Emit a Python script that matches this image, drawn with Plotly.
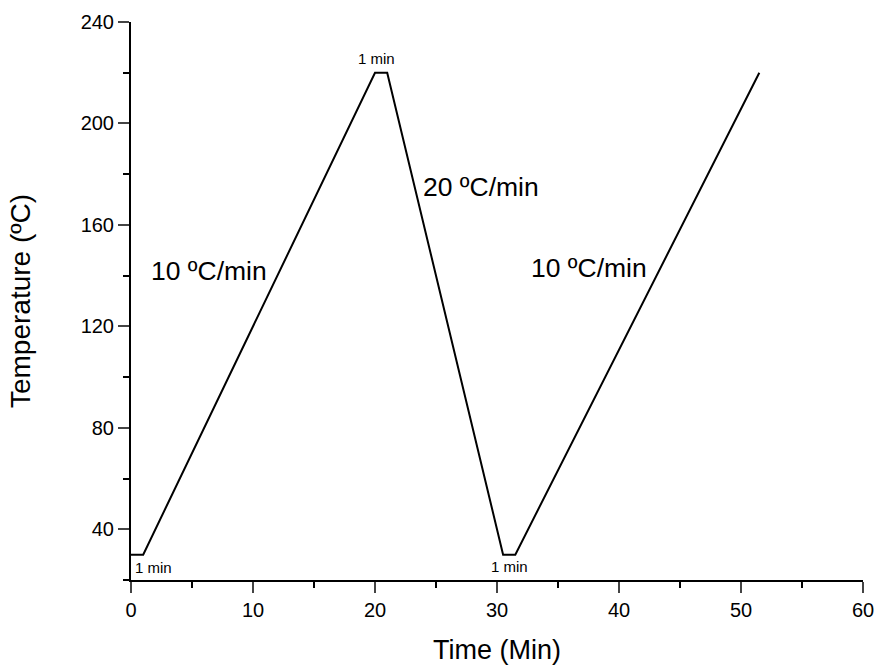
import plotly.graph_objects as go

# Data
time_min = [0, 1, 20, 21, 30.5, 31.5, 51.5]
temperature_c = [30, 30, 220, 220, 30, 30, 220]

rate_labels = ["10 ºC/min", "20 ºC/min", "10 ºC/min"]
rate_x = [1.5, 23.8, 32.6]
rate_y = [142, 175, 143]

hold_labels = ["1 min", "1 min", "1 min"]
hold_x = [0.15, 20.1, 31.0]
hold_y = [25, 225.5, 25.5]
hold_anchor = ["left", "center", "center"]

x_ticks = [0, 10, 20, 30, 40, 50, 60]
y_ticks = [40, 80, 120, 160, 200, 240]

FONT = "Liberation Sans, Arial, sans-serif"

fig = go.Figure()
fig.add_trace(go.Scatter(x=time_min, y=temperature_c, mode="lines",
                         line=dict(color="black", width=2), showlegend=False))

for t, x, y in zip(rate_labels, rate_x, rate_y):
    fig.add_annotation(x=x, y=y, text=t, showarrow=False, xanchor="left",
                       yanchor="middle", font=dict(family=FONT, size=26.5, color="black"))
for t, x, y, a in zip(hold_labels, hold_x, hold_y, hold_anchor):
    fig.add_annotation(x=x, y=y, text=t, showarrow=False, xanchor=a,
                       yanchor="middle", font=dict(family=FONT, size=15, color="black"))

fig.update_layout(
    width=877, height=668,
    margin=dict(l=131, r=14, t=22, b=88, autoexpand=False),
    paper_bgcolor="white", plot_bgcolor="white",
    font=dict(family=FONT, color="black"),
    xaxis=dict(range=[0, 60], tickvals=x_ticks, ticks="outside", ticklen=11, tickwidth=2,
               showline=True, linecolor="black", linewidth=2, showgrid=False, zeroline=False,
               tickfont=dict(size=20), title=dict(text="Time (Min)", font=dict(size=27), standoff=20),
               minor=dict(dtick=5, tick0=0, ticks="outside", ticklen=6, tickwidth=2, tickcolor="black")),
    yaxis=dict(range=[20, 240], tickvals=y_ticks, ticks="outside", ticklen=11, tickwidth=2,
               showline=True, linecolor="black", linewidth=2, showgrid=False, zeroline=False,
               tickfont=dict(size=20), title=dict(text="Temperature (ºC)", font=dict(size=28), standoff=42),
               minor=dict(dtick=20, tick0=0, ticks="outside", ticklen=6, tickwidth=2, tickcolor="black")),
)

fig.write_html("out.html", config={"displayModeBar": False},
               post_script="document.body.style.margin='0';")
